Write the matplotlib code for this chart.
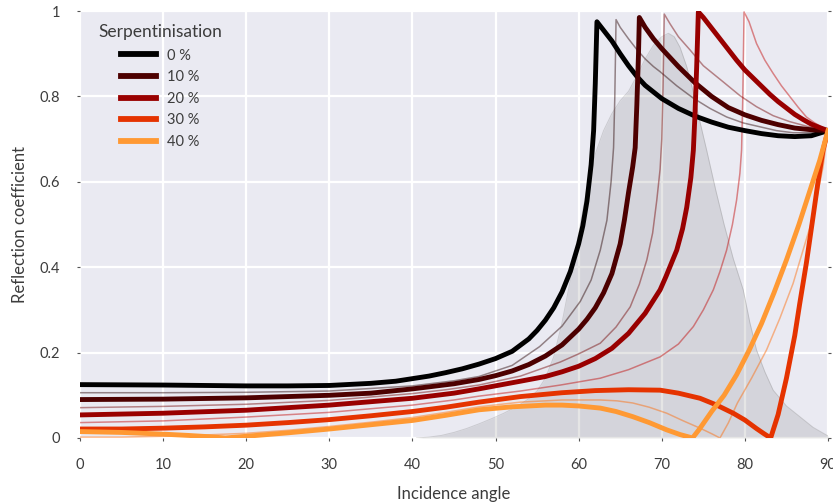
import matplotlib
matplotlib.use("Agg")
import matplotlib.pyplot as plt

plt.rcParams['font.family'] = ['Lato', 'DejaVu Sans']

# reflection coefficient vs incidence angle, one curve per serpentinisation level
ang_00 = [0, 5, 10, 15, 20, 25, 30, 35, 38, 40, 42, 44, 46, 48, 50, 52, 54, 55, 56, 57, 58, 59, 60, 60.5, 61, 61.5, 61.8, 62.0, 62.2,
          63, 64, 65, 66, 67, 68, 70, 72, 74, 76, 78, 80, 82, 84, 86, 88, 90]
rc_00 = [0.125, 0.1245, 0.124, 0.123, 0.122, 0.122, 0.123, 0.128, 0.133, 0.139, 0.145, 0.153, 0.162, 0.173, 0.186, 0.203, 0.232, 0.252, 0.276, 0.305, 0.342, 0.39, 0.455, 0.497, 0.555, 0.64, 0.72, 0.83, 0.975,
         0.955, 0.93, 0.9, 0.872, 0.847, 0.826, 0.795, 0.772, 0.754, 0.74, 0.728, 0.72, 0.713, 0.708, 0.706, 0.708, 0.72]

ang_05 = [0, 10, 20, 30, 40, 45, 48, 52, 55.3, 58, 60.2, 61.5, 62.6, 63.4, 63.9, 64.2, 64.35, 64.5,
          65, 66, 67, 68, 69, 69.8, 71.8, 73.8, 75.8, 77.8, 79.8, 81.8, 83.8, 85.8, 88, 90]
rc_05 = [0.106, 0.106, 0.107, 0.11, 0.122, 0.134, 0.144, 0.17, 0.214, 0.262, 0.32, 0.37, 0.44, 0.51, 0.6, 0.68, 0.8, 0.98,
         0.962, 0.935, 0.91, 0.888, 0.87, 0.858, 0.825, 0.796, 0.772, 0.752, 0.738, 0.729, 0.72, 0.715, 0.715, 0.72]

ang_10 = [0, 10, 20, 30, 35, 40, 45, 48, 50, 52, 54, 56, 58, 60, 61, 62, 63, 64, 65, 65.5, 66, 66.5, 66.8, 67.0, 67.2, 67.3,
          68, 69, 70, 72, 74, 76, 78, 80, 82, 84, 86, 88, 90]
rc_10 = [0.09, 0.091, 0.094, 0.1, 0.105, 0.115, 0.127, 0.137, 0.146, 0.157, 0.172, 0.192, 0.218, 0.255, 0.278, 0.305, 0.34, 0.385, 0.455, 0.51, 0.575, 0.635, 0.68, 0.78, 0.9, 0.985,
         0.962, 0.935, 0.912, 0.87, 0.832, 0.8, 0.774, 0.757, 0.744, 0.734, 0.726, 0.722, 0.72]

ang_15 = [0, 10, 20, 30, 40, 44, 48, 53, 57.8, 60, 62.6, 64.5, 66.2, 67.3, 68.2, 68.9, 69.4, 69.8, 70.0, 70.15, 70.3,
          71, 72, 73.4, 75, 77.4, 79.4, 81.4, 83.4, 85.4, 87.5, 90]
rc_15 = [0.071, 0.074, 0.079, 0.088, 0.104, 0.113, 0.124, 0.145, 0.178, 0.197, 0.222, 0.26, 0.307, 0.36, 0.417, 0.48, 0.557, 0.63, 0.7, 0.82, 0.993,
         0.97, 0.94, 0.909, 0.872, 0.834, 0.802, 0.776, 0.755, 0.741, 0.73, 0.72]

ang_20 = [0, 10, 20, 30, 40, 45, 48, 53, 56, 58, 60, 62, 64, 66, 68, 69.8, 70.5, 71.8, 72.5, 73, 73.5, 73.8, 74.0, 74.2, 74.4,
          75, 76, 77, 78, 79, 80, 81, 82, 83, 84, 85, 86, 87, 88, 89, 90]
rc_20 = [0.054, 0.058, 0.065, 0.077, 0.093, 0.105, 0.115, 0.133, 0.144, 0.155, 0.168, 0.186, 0.21, 0.245, 0.292, 0.347, 0.378, 0.44, 0.49, 0.54, 0.61, 0.674, 0.76, 0.87, 0.998,
         0.985, 0.96, 0.935, 0.91, 0.885, 0.862, 0.843, 0.824, 0.805, 0.788, 0.773, 0.758, 0.746, 0.735, 0.727, 0.72]

ang_25 = [0, 10, 20, 30, 40, 45, 48, 53, 57.8, 62.6, 66, 69.8, 72, 73.8, 75, 76.2, 77, 77.8, 78.5, 79, 79.4, 79.6, 79.75, 79.9,
          80.5, 81.4, 82.4, 83.4, 84.4, 85.4, 86.4, 87.4, 88.4, 89.4, 90]
rc_25 = [0.036, 0.04, 0.049, 0.06, 0.077, 0.089, 0.098, 0.11, 0.124, 0.14, 0.16, 0.19, 0.22, 0.261, 0.3, 0.347, 0.39, 0.44, 0.5, 0.557, 0.62, 0.674, 0.8, 0.998,
         0.975, 0.924, 0.885, 0.854, 0.825, 0.8, 0.775, 0.752, 0.738, 0.727, 0.72]

ang_30 = [0, 5, 10, 15, 20, 25, 30, 35, 40, 44, 48, 53, 58, 62, 66, 69.8, 72, 74.6, 76.5, 78.6, 80, 81.4, 82.3, 83.1,
          84, 85, 86, 86.6, 87.4, 88.2, 88.8, 89.4, 90]
rc_30 = [0.021, 0.021, 0.023, 0.026, 0.03, 0.036, 0.043, 0.052, 0.062, 0.072, 0.084, 0.097, 0.106, 0.111, 0.113, 0.112, 0.105, 0.093, 0.078, 0.058, 0.042, 0.022, 0.01, 0.0,
         0.055, 0.14, 0.24, 0.315, 0.41, 0.518, 0.6, 0.674, 0.72]

ang_35 = [0, 5, 10, 15, 20, 25, 30, 35, 40, 44, 48, 53, 58, 62.6, 64.6, 66.5, 68.5, 70.6, 72.6, 74.6, 76, 77,
          78, 79.1, 80.8, 82.6, 84.2, 85.8, 87, 88.2, 89.4, 90]
rc_35 = [0.002, 0.002, 0.004, 0.007, 0.011, 0.018, 0.027, 0.037, 0.048, 0.06, 0.073, 0.084, 0.089, 0.089, 0.087, 0.082, 0.072, 0.058, 0.04, 0.023, 0.01, 0.0,
         0.035, 0.082, 0.14, 0.206, 0.28, 0.362, 0.44, 0.518, 0.635, 0.72]

ang_40 = [0, 5, 10, 13, 15.5, 17.5, 20, 22.5, 25, 30, 35, 40, 44, 48, 52, 56, 58, 60, 62.6, 64.5, 66.5, 68.5, 70.6, 72.2, 73.7,
          74.5, 76, 77.5, 79, 80.5, 82, 83.5, 85, 86.5, 88, 89, 90]
rc_40 = [0.015, 0.013, 0.009, 0.006, 0.003, 0.0, 0.004, 0.008, 0.012, 0.021, 0.031, 0.041, 0.053, 0.066, 0.073, 0.077, 0.077, 0.075, 0.07, 0.062, 0.05, 0.036, 0.019, 0.008, 0.0,
         0.02, 0.062, 0.1, 0.148, 0.205, 0.268, 0.34, 0.417, 0.5, 0.59, 0.65, 0.72]

# distribution of incidence angles (scaled to the same axis)
dens_ang = [40.5, 42, 43.5, 45, 46.5, 48, 49.5, 51, 52.5, 54, 55, 56, 57, 58, 59, 60, 61, 62, 63, 64, 65, 66, 67, 68, 69, 70, 70.8,
            71.5, 72.2, 73, 73.8, 74.6, 75.4, 76.5, 77.5, 78.6, 79.8, 80.6, 81.4, 82.4, 83.4, 85, 86.6, 88.2, 89.8, 90]
dens_val = [0, 0.002, 0.006, 0.013, 0.022, 0.033, 0.045, 0.058, 0.073, 0.092, 0.11, 0.14, 0.19, 0.27, 0.37, 0.48, 0.585, 0.665, 0.72, 0.76, 0.79, 0.812, 0.848, 0.888, 0.92, 0.94, 0.948,
            0.94, 0.915, 0.87, 0.81, 0.74, 0.674, 0.58, 0.5, 0.42, 0.347, 0.27, 0.206, 0.155, 0.112, 0.075, 0.05, 0.025, 0.007, 0.005]

levels = [0, 5, 10, 15, 20, 25, 30, 35, 40]
curves = [(ang_00, rc_00), (ang_05, rc_05), (ang_10, rc_10), (ang_15, rc_15), (ang_20, rc_20),
          (ang_25, rc_25), (ang_30, rc_30), (ang_35, rc_35), (ang_40, rc_40)]

fig = plt.figure(figsize=(8.33, 5.04), dpi=100)
ax = fig.add_axes([0.096, 0.131, 0.898, 0.847])
ax.set_facecolor('#EAEAF2')
for s in ax.spines.values():
    s.set_visible(False)
ax.grid(True, color='white', linewidth=1.6)
ax.set_axisbelow(True)

ax.fill_between(dens_ang, 0, dens_val, color='grey', alpha=0.2, linewidth=0, zorder=1)
ax.plot(dens_ang, dens_val, color='grey', alpha=0.3, linewidth=0.7, zorder=1)

heat = plt.colormaps['gist_heat']
for lev, (a, r) in zip(levels, curves):
    col = heat(lev / 50)
    if lev % 10 == 0:
        ax.plot(a, r, color=col, linewidth=3.5, zorder=3, label=f'{lev} %')
    else:
        ax.plot(a, r, color=col, alpha=0.45, linewidth=1.1, zorder=2)

ax.set_xlim(0, 90)
ax.set_ylim(0, 1)
ax.set_xticks(range(0, 91, 10))
ax.set_yticks([0, 0.2, 0.4, 0.6, 0.8, 1])
ax.set_yticklabels(['0', '0.2', '0.4', '0.6', '0.8', '1'])
ax.tick_params(axis='both', which='both', length=2.5, width=0.8, color='#555555',
               labelsize=10.5, labelcolor='#3c3c3c')
ax.tick_params(axis='x', pad=12)
ax.tick_params(axis='y', pad=12, right=True)

ax.set_xlabel('Incidence angle', fontsize=12, color='#3c3c3c', labelpad=10)
ax.set_ylabel('Reflection coefficient', fontsize=12, color='#3c3c3c', labelpad=8)

leg = ax.legend(title='Serpentinisation', loc='upper left', frameon=False, fontsize=10.5,
                title_fontsize=12.5, handlelength=2.4, labelspacing=0.52, handletextpad=0.8,
                bbox_to_anchor=(0.007, 1.0))
leg._legend_box.sep = 6
for h in leg.get_lines():
    h.set_linewidth(4.2)
for t in leg.get_texts():
    t.set_color('#3c3c3c')
leg.get_title().set_color('#3c3c3c')

fig.savefig('out.png', dpi=100)
